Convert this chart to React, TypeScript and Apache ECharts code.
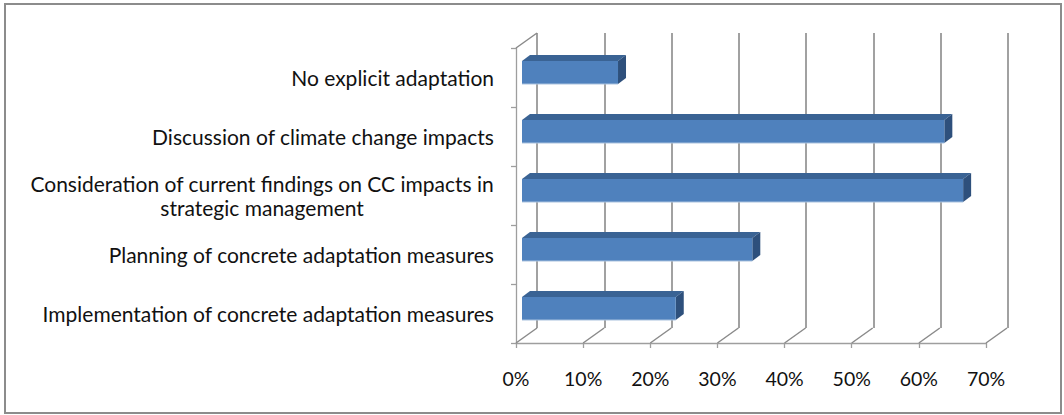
import React, { useEffect, useRef } from "react";
import * as echarts from "echarts";

const categories: string[] = [
  "No explicit adaptation",
  "Discussion of climate change impacts",
  "Consideration of current findings on CC impacts in\nstrategic management",
  "Planning of concrete adaptation measures",
  "Implementation of concrete adaptation measures",
];
const values: number[] = [14.3, 62.9, 65.7, 34.3, 22.9];
const xTicks: number[] = [0, 10, 20, 30, 40, 50, 60, 70];

const FONT = "Lato";
const DEPTH_X = 21;
const DEPTH_Y = -15;

export default function App() {
  const ref = useRef<HTMLDivElement>(null);
  useEffect(() => {
    document.body.style.margin = "0";
    if (!ref.current) return;
    const chart = echarts.init(ref.current, undefined, { renderer: "svg" });
    const gridColor = "#8A8A8A";
    const axisColor = "#9E9E9E";
    const option: any = {
      animation: false,
      backgroundColor: "#ffffff",
      grid: [
        { left: 516, top: 48, width: 470, height: 295 },
        { left: 537, top: 33, width: 471, height: 295 },
      ],
      xAxis: [
        {
          gridIndex: 0,
          type: "value",
          min: 0,
          max: 70,
          interval: 10,
          axisLine: { show: true, lineStyle: { color: axisColor, width: 1.3 } },
          axisTick: { show: true, length: 5, lineStyle: { color: axisColor, width: 1.3 } },
          axisLabel: {
            formatter: "{value}%",
            margin: 25,
            fontSize: 19.5,
            color: "#111",
            fontFamily: FONT,
          },
          splitLine: { show: false },
        },
        {
          gridIndex: 1,
          type: "value",
          min: 0,
          max: 70,
          interval: 10,
          axisLine: { show: false },
          axisTick: { show: false },
          axisLabel: { show: false },
          splitLine: { show: true, lineStyle: { color: gridColor, width: 1.6 } },
        },
      ],
      yAxis: [
        {
          gridIndex: 0,
          type: "category",
          data: categories,
          inverse: true,
          axisLine: { show: true, lineStyle: { color: axisColor, width: 1.3 } },
          axisTick: { show: true, length: 5, lineStyle: { color: axisColor, width: 1.3 } },
          axisLabel: {
            margin: 22,
            color: "#111",
            fontSize: 21,
            fontFamily: FONT,
            formatter: (v: string) =>
              v
                .split("\n")
                .map((l) => `{c|${l}}`)
                .join("\n"),
            rich: {
              c: {
                align: "center",
                fontSize: 21,
                fontFamily: FONT,
                color: "#111",
                lineHeight: 24,
              },
            },
          },
          splitLine: { show: false },
        },
        {
          gridIndex: 1,
          type: "category",
          data: categories,
          inverse: true,
          show: false,
        },
      ],
      graphic: [
        {
          type: "rect",
          shape: { x: 5, y: 4, width: 1056, height: 409 },
          style: { fill: "none", stroke: "#8C8C8C", lineWidth: 2 },
          silent: true,
        },
      ],
      series: [
        {
          type: "custom",
          xAxisIndex: 0,
          yAxisIndex: 0,
          clip: false,
          data: xTicks.map((t) => [t, 0, 0]).concat([[0, 0, 1]]),
          encode: { x: 0, y: 1 },
          renderItem: (params: any, api: any) => {
            const cs = params.coordSys;
            const x = api.coord([api.value(0), 0])[0];
            const kind = api.value(2);
            const y = kind === 1 ? cs.y : cs.y + cs.height;
            return {
              type: "line",
              shape: { x1: x, y1: y, x2: x + DEPTH_X, y2: y + DEPTH_Y },
              style: { stroke: gridColor, lineWidth: 1.5 },
            };
          },
          z: 1,
        },
        {
          type: "custom",
          xAxisIndex: 0,
          yAxisIndex: 0,
          clip: false,
          data: values.map((v, i) => [v, i]),
          encode: { x: 0, y: 1 },
          renderItem: (params: any, api: any) => {
            const start = api.coord([0, api.value(1)]);
            const end = api.coord([api.value(0), api.value(1)]);
            const band = api.size([0, 1])[1];
            const h = band * 0.39;
            const x0 = start[0] + 6;
            const x1 = end[0] + 6;
            const yc = start[1] - 5;
            const top = yc - h / 2;
            const bottom = yc + h / 2;
            const dx = 8;
            const dy = -6;
            return {
              type: "group",
              children: [
                {
                  type: "polygon",
                  shape: {
                    points: [
                      [x0, top],
                      [x0 + dx, top + dy],
                      [x1 + dx, top + dy],
                      [x1, top],
                    ],
                  },
                  style: { fill: "#3A6394" },
                },
                {
                  type: "polygon",
                  shape: {
                    points: [
                      [x1, top],
                      [x1 + dx, top + dy],
                      [x1 + dx, bottom + dy],
                      [x1, bottom],
                    ],
                  },
                  style: { fill: "#2E507C" },
                },
                {
                  type: "rect",
                  shape: { x: x0, y: top, width: x1 - x0, height: h },
                  style: { fill: "#4F81BD" },
                },
                {
                  type: "line",
                  shape: { x1: x0, y1: bottom, x2: x1, y2: bottom },
                  style: { stroke: "#A9C1DE", lineWidth: 1 },
                },
              ],
            };
          },
          z: 3,
        },
      ],
    };
    chart.setOption(option);
    return () => chart.dispose();
  }, []);
  return <div ref={ref} style={{ width: 1064, height: 415 }} />;
}
